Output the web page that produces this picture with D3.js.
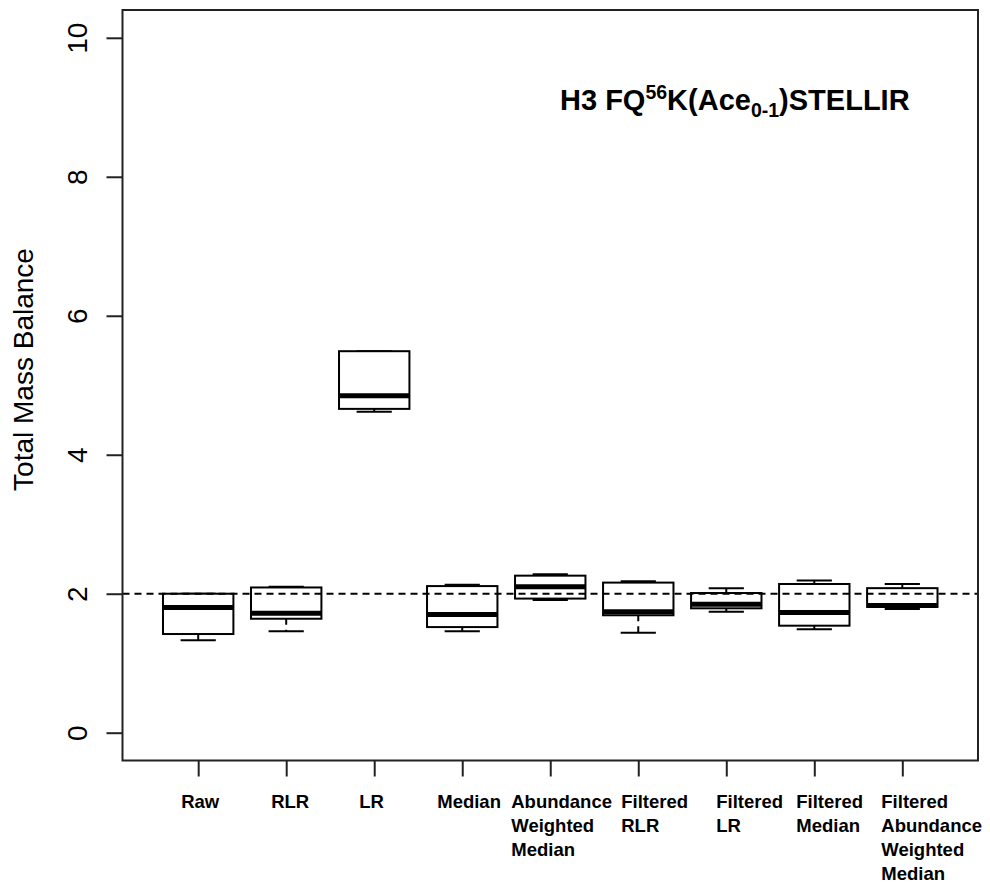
<!DOCTYPE html>
<html>
<head>
<meta charset="utf-8">
<script src="https://cdn.jsdelivr.net/npm/d3@7"></script>
<style>
  html, body { margin: 0; padding: 0; background: #fff; }
  svg { display: block; }
  text { font-family: "Liberation Sans", Arial, sans-serif; fill: #000; }
</style>
</head>
<body>
<svg id="chart" width="990" height="884"></svg>
<script>
// Normalisation methods (one box per method)
const labelLines = [
  ["Raw"], ["RLR"], ["LR"], ["Median"],
  ["Abundance", "Weighted", "Median"],
  ["Filtered", "RLR"], ["Filtered", "LR"], ["Filtered", "Median"],
  ["Filtered", "Abundance", "Weighted", "Median"]
];

// Five-number summaries of total mass balance per method
const lowerWhisker = [1.33, 1.46, 4.62, 1.46, 1.91, 1.44, 1.74, 1.49, 1.78];
const lowerQuartile = [1.42, 1.64, 4.66, 1.52, 1.93, 1.69, 1.79, 1.54, 1.81];
const medians      = [1.80, 1.72, 4.85, 1.70, 2.10, 1.74, 1.85, 1.73, 1.83];
const upperQuartile = [2.00, 2.09, 5.49, 2.11, 2.26, 2.16, 2.01, 2.14, 2.08];
const upperWhisker = [2.00, 2.10, 5.49, 2.13, 2.28, 2.18, 2.08, 2.19, 2.14];

const yTicks = [0, 2, 4, 6, 8, 10];
const referenceLevel = 2;

const svg = d3.select("#chart");

// Plot region
const plot = { left: 122.5, right: 978, top: 10, bottom: 760.5 };

const x = d3.scaleLinear()
  .domain([0.14, labelLines.length + 0.86])
  .range([plot.left, plot.right]);
const y = d3.scaleLinear()
  .domain([-0.4, 10.4])
  .range([plot.bottom, plot.top]);

const boxWidth = x(1.8) - x(1);     // 0.8 of category spacing
const stapleWidth = boxWidth / 2;

const boxes = labelLines.map((lines, i) => ({
  pos: i + 1,
  lo: lowerWhisker[i], q1: lowerQuartile[i], med: medians[i],
  q3: upperQuartile[i], hi: upperWhisker[i]
}));

const g = svg.append("g");

// whiskers (dashed) and staples
const wh = g.selectAll("g.box").data(boxes).join("g").attr("class", "box");
wh.append("line")
  .attr("x1", d => x(d.pos)).attr("x2", d => x(d.pos))
  .attr("y1", d => y(d.q3)).attr("y2", d => y(d.hi))
  .attr("stroke", "#000").attr("stroke-width", 2).attr("stroke-dasharray", "6,5");
wh.append("line")
  .attr("x1", d => x(d.pos)).attr("x2", d => x(d.pos))
  .attr("y1", d => y(d.q1)).attr("y2", d => y(d.lo))
  .attr("stroke", "#000").attr("stroke-width", 2).attr("stroke-dasharray", "6,5");
wh.append("line")
  .attr("x1", d => x(d.pos) - stapleWidth / 2).attr("x2", d => x(d.pos) + stapleWidth / 2)
  .attr("y1", d => y(d.hi)).attr("y2", d => y(d.hi))
  .attr("stroke", "#000").attr("stroke-width", 2);
wh.append("line")
  .attr("x1", d => x(d.pos) - stapleWidth / 2).attr("x2", d => x(d.pos) + stapleWidth / 2)
  .attr("y1", d => y(d.lo)).attr("y2", d => y(d.lo))
  .attr("stroke", "#000").attr("stroke-width", 2);
// interquartile box
wh.append("rect")
  .attr("x", d => x(d.pos) - boxWidth / 2)
  .attr("width", boxWidth)
  .attr("y", d => y(d.q3))
  .attr("height", d => y(d.q1) - y(d.q3))
  .attr("fill", "#fff").attr("stroke", "#000").attr("stroke-width", 2);
// median bar
wh.append("line")
  .attr("x1", d => x(d.pos) - boxWidth / 2).attr("x2", d => x(d.pos) + boxWidth / 2)
  .attr("y1", d => y(d.med)).attr("y2", d => y(d.med))
  .attr("stroke", "#000").attr("stroke-width", 5);

// reference line at total mass balance = 2
svg.append("line")
  .attr("x1", plot.left).attr("x2", plot.right)
  .attr("y1", y(referenceLevel)).attr("y2", y(referenceLevel))
  .attr("stroke", "#000").attr("stroke-width", 2).attr("stroke-dasharray", "7,5");

// frame
svg.append("rect")
  .attr("x", plot.left).attr("y", plot.top)
  .attr("width", plot.right - plot.left).attr("height", plot.bottom - plot.top)
  .attr("fill", "none").attr("stroke", "#222").attr("stroke-width", 2);

// y axis
const yAxis = d3.axisLeft(y).tickValues(yTicks).tickSize(16).tickFormat(d3.format("d"));
const ya = svg.append("g").attr("transform", `translate(${plot.left},0)`).call(yAxis);
ya.select(".domain").remove();
ya.selectAll(".tick line").attr("stroke", "#222").attr("stroke-width", 2);
ya.selectAll(".tick text")
  .attr("x", null).attr("dy", null)
  .attr("transform", "translate(-36,0) rotate(-90)")
  .attr("text-anchor", "middle")
  .attr("font-size", 28)
  .attr("font-family", "Liberation Sans, Arial, sans-serif");

// x axis ticks
const xAxis = d3.axisBottom(x).tickValues(boxes.map(d => d.pos)).tickSize(16).tickFormat("");
const xa = svg.append("g").attr("transform", `translate(0,${plot.bottom})`).call(xAxis);
xa.select(".domain").remove();
xa.selectAll(".tick line").attr("stroke", "#222").attr("stroke-width", 2);

// category labels: left-aligned text blocks under each tick
const labelShift = [-17, -15, -15, -25, -39, -17, -10, -18, -21];
const lab = svg.append("g").selectAll("text").data(labelLines).join("text")
  .attr("x", (d, i) => x(i + 1) + labelShift[i])
  .attr("y", 808)
  .attr("font-size", 18.5)
  .attr("font-weight", "bold");
lab.selectAll("tspan").data((d, i) => d.map(s => ({ s, i }))).join("tspan")
  .attr("x", d => x(d.i + 1) + labelShift[d.i])
  .attr("dy", (d, j) => j === 0 ? 0 : 24)
  .text(d => d.s);

// y axis title
svg.append("text")
  .attr("transform", `translate(33,${(245 + 494) / 2}) rotate(-90)`)
  .attr("text-anchor", "middle")
  .attr("font-size", 28)
  .text("Total Mass Balance");

// peptide label
const title = svg.append("text")
  .attr("x", 560).attr("y", 110)
  .attr("font-size", 29)
  .attr("font-weight", "bold");
title.append("tspan").text("H3 FQ");
title.append("tspan").attr("font-size", 19.5).attr("dy", -11).text("56");
title.append("tspan").attr("dy", 11).text("K(Ace");
title.append("tspan").attr("font-size", 19.5).attr("dy", 7).text("0-1");
title.append("tspan").attr("dy", -7).text(")STELLIR");
</script>
</body>
</html>
